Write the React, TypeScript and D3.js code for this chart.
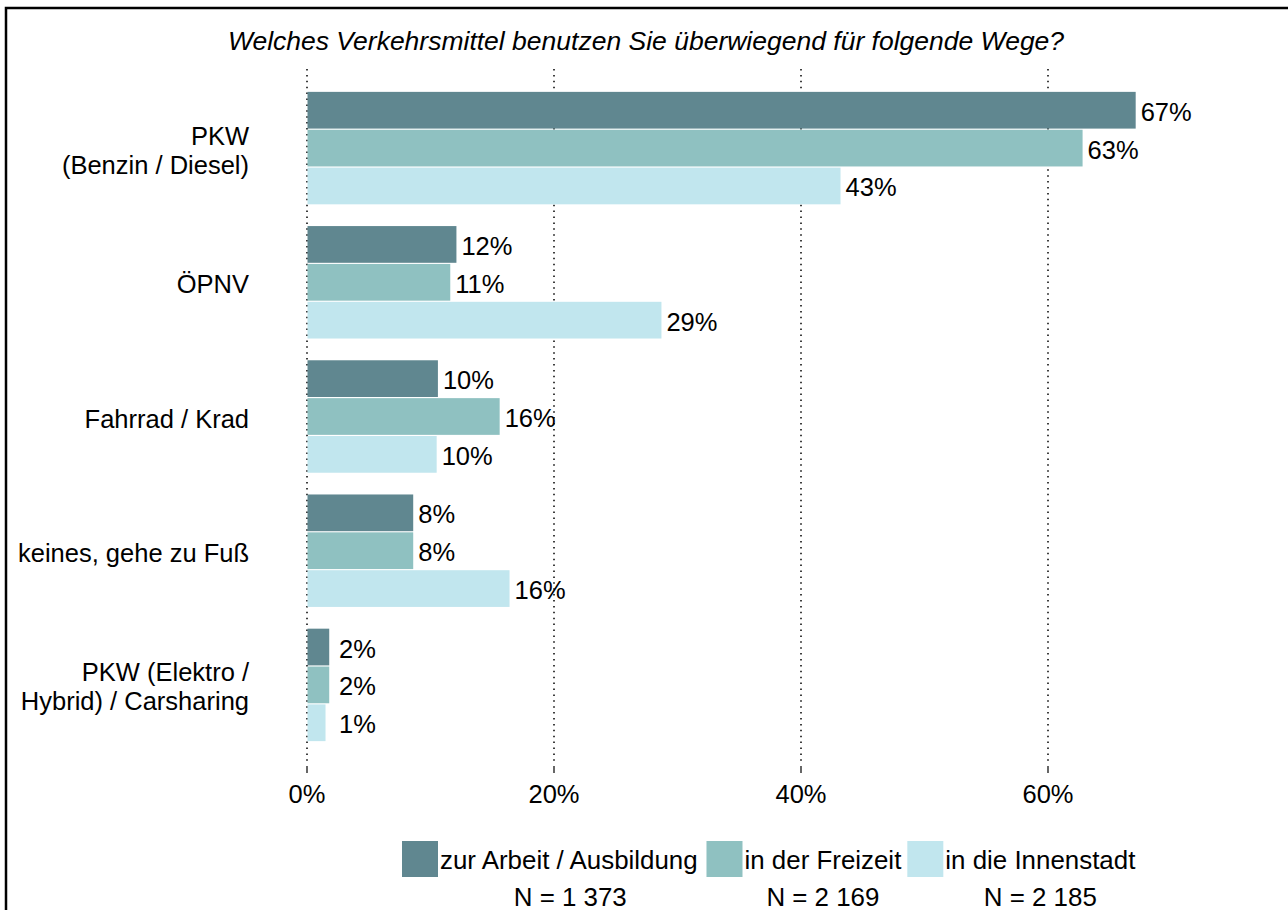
import React from "react";
import * as d3 from "d3";

const title = "Welches Verkehrsmittel benutzen Sie überwiegend für folgende Wege?";
const categories = [
  "PKW\n(Benzin / Diesel)",
  "ÖPNV",
  "Fahrrad / Krad",
  "keines, gehe zu Fuß",
  "PKW (Elektro /\nHybrid) / Carsharing",
];
const seriesNames = ["zur Arbeit / Ausbildung", "in der Freizeit", "in die Innenstadt"];
const seriesN = ["N = 1 373", "N = 2 169", "N = 2 185"];
// bar lengths (%)
const arbeit = [67.1, 12.1, 10.6, 8.6, 1.8];
const freizeit = [62.8, 11.6, 15.6, 8.6, 1.8];
const innenstadt = [43.2, 28.7, 10.5, 16.4, 1.5];
// printed labels (%)
const arbeitLabels = [67, 12, 10, 8, 2];
const freizeitLabels = [63, 11, 16, 8, 2];
const innenstadtLabels = [43, 29, 10, 16, 1];
const tickValues = [0, 20, 40, 60];
const colors = ["#608790", "#8fc1c1", "#c1e6ee"];

const W = 1288;
const H = 910;
const FONT = "'Liberation Sans', Arial, sans-serif";
const FS = 25.5;
const LFS = 25.9;

function measure(text: string, font: string): number {
  if (typeof document === "undefined") return text.length * FS * 0.5;
  const c = document.createElement("canvas");
  const ctx = c.getContext("2d");
  if (!ctx) return text.length * FS * 0.5;
  ctx.font = font;
  return ctx.measureText(text).width;
}

export default function App() {
  const series = [arbeit, freizeit, innenstadt];
  const labels = [arbeitLabels, freizeitLabels, innenstadtLabels];
  const x = d3.scaleLinear().domain([0, 60]).range([307, 1048]);
  const y = d3
    .scaleBand<number>()
    .domain(d3.range(categories.length))
    .range([81, 752])
    .paddingInner(0.162)
    .paddingOuter(0.081);
  const yi = d3
    .scaleBand<number>()
    .domain(d3.range(series.length))
    .range([0, y.bandwidth()])
    .paddingInner(0.03);

  const gridTop = 69;
  const gridBottom = 764;

  const legendFont = `${LFS}px ${FONT}`;
  let lx = 402;
  const legendItems = seriesNames.map((name, i) => {
    const w = measure(name, legendFont);
    const item = { x: lx, textX: lx + 38, w, name, n: seriesN[i], color: colors[i] };
    lx = lx + 38 + w + 6;
    return item;
  });

  return (
    <div style={{ position: "absolute", left: 0, top: 0 }}>
      <svg width={W} height={H} style={{ display: "block", background: "#fff" }}>
        <rect x={6} y={8} width={W + 20} height={H + 20} fill="#fff" stroke="#000" strokeWidth={2.5} />
        <text
          x={646}
          y={50}
          textAnchor="middle"
          fontFamily={FONT}
          fontSize={26.5}
          fontStyle="italic"
          fill="#000"
        >
          {title}
        </text>

        {categories.map((_, ci) =>
          series.map((vals, si) => {
            const v = vals[ci];
            const cy = (y(ci) as number) + (yi(si) as number) + yi.bandwidth() / 2;
            const lxv = Math.max(x(v) + 5, x(0) + 32);
            return (
              <text
                key={`l${ci}-${si}`}
                x={lxv}
                y={cy + 10.5}
                fontFamily={FONT}
                fontSize={FS}
                fill="#000"
              >
                {labels[si][ci]}%
              </text>
            );
          })
        )}

        {tickValues.map((t) => (
          <g key={`g${t}`}>
            <line
              x1={x(t)}
              x2={x(t)}
              y1={gridTop}
              y2={gridBottom}
              stroke="#000"
              strokeWidth={1.5}
              strokeDasharray="1.5 4.4"
            />
            <line x1={x(t)} x2={x(t)} y1={766} y2={773} stroke="#000" strokeWidth={1.2} />
            <text
              x={x(t)}
              y={803}
              textAnchor="middle"
              fontFamily={FONT}
              fontSize={FS}
              fill="#000"
            >
              {t}%
            </text>
          </g>
        ))}

        {categories.map((_, ci) =>
          series.map((vals, si) => (
            <rect
              key={`b${ci}-${si}`}
              x={x(0) + 0.5}
              y={(y(ci) as number) + (yi(si) as number)}
              width={x(vals[ci]) - x(0) - 0.5}
              height={yi.bandwidth()}
              fill={colors[si]}
            />
          ))
        )}

        {categories.map((c, ci) => {
          const lines = c.split("\n");
          const cy = (y(ci) as number) + y.bandwidth() / 2;
          const lh = 29;
          const start = cy - ((lines.length - 1) * lh) / 2;
          return (
            <text key={`c${ci}`} textAnchor="end" fontFamily={FONT} fontSize={FS} fill="#000">
              {lines.map((ln, li) => (
                <tspan key={li} x={249} y={start + li * lh + 11}>
                  {ln}
                </tspan>
              ))}
            </text>
          );
        })}

        {legendItems.map((it, i) => (
          <g key={`lg${i}`}>
            <rect x={it.x} y={841} width={36} height={36} fill={it.color} />
            <text x={it.textX} y={869} fontFamily={FONT} fontSize={LFS} fill="#000">
              {it.name}
            </text>
            <text
              x={it.textX + it.w / 2}
              y={906}
              textAnchor="middle"
              fontFamily={FONT}
              fontSize={LFS}
              fill="#000"
            >
              {it.n}
            </text>
          </g>
        ))}
      </svg>
    </div>
  );
}
